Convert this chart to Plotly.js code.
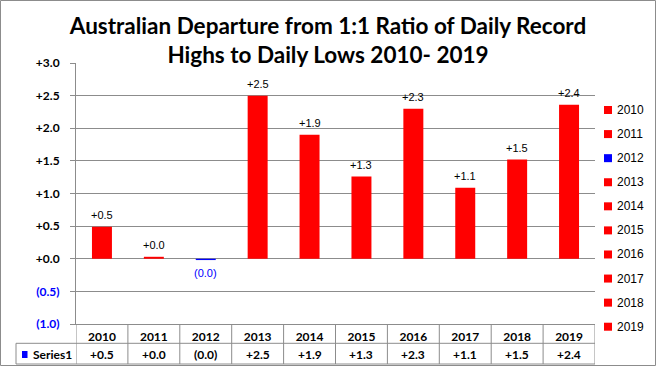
<!DOCTYPE html>
<html>
<head>
<meta charset="utf-8">
<script src="https://cdn.plot.ly/plotly-3.0.1.min.js"></script>
<style>
html,body{margin:0;padding:0;background:#fff;}
#chart{width:656px;height:366px;}
</style>
</head>
<body>
<div id="chart"></div>
<script>
// ---- data ----
const years = ['2010','2011','2012','2013','2014','2015','2016','2017','2018','2019'];
const values = [0.49, 0.03, -0.02, 2.50, 1.90, 1.26, 2.30, 1.09, 1.52, 2.36];
const barColors = ['#ff0000','#ff0000','#0000ff','#ff0000','#ff0000','#ff0000','#ff0000','#ff0000','#ff0000','#ff0000'];
const yTickVals = [-1.0, -0.5, 0.0, 0.5, 1.0, 1.5, 2.0, 2.5, 3.0];
const seriesName = 'Series1';
const seriesColor = '#0000ff';
const titleText = 'Australian Departure from 1:1 Ratio of Daily Record<br>Highs to Daily Lows 2010- 2019';

// ---- helpers ----
function fmt(v){ return v >= 0 ? '+' + v.toFixed(1) : '(' + Math.abs(v).toFixed(1) + ')'; }
const W = 656, H = 366, ML = 76, MR = 61, MT = 63, MB = 42;
const PW = W - ML - MR, PH = H - MT - MB;
const xp = px => (px - ML) / PW;
const yp = py => (H - MB - py) / PH;
const GRAY = '#8c8c8c';
const calib = 'Lato, "Open Sans", sans-serif';
const tah = '"Liberation Sans", Arial, sans-serif';

const tickText = yTickVals.map(v => v < 0 ? '<span style="color:#0000ff">' + fmt(v) + '</span>' : fmt(v));

const trace = {
  type: 'bar',
  x: years,
  y: values,
  marker: {color: barColors, line: {width: 0}},
  width: 0.385,
  showlegend: false,
  hoverinfo: 'x+y'
};

const shapes = [];
const annotations = [];

// outer border
shapes.push({type:'rect', xref:'paper', yref:'paper', x0: xp(0.5), x1: xp(655.5), y0: yp(0.5), y1: yp(365.5), line:{color:GRAY, width:1}, layer:'above'});

// data table lines
const rowMid = 343.3, rowBot = 364;
shapes.push({type:'line', xref:'paper', yref:'paper', x0: xp(16), x1: 1, y0: yp(rowMid), y1: yp(rowMid), line:{color:GRAY, width:1}});
shapes.push({type:'line', xref:'paper', yref:'paper', x0: xp(16), x1: 1, y0: yp(rowBot), y1: yp(rowBot), line:{color:GRAY, width:1}});
shapes.push({type:'line', xref:'paper', yref:'paper', x0: xp(16), x1: xp(16), y0: yp(rowMid), y1: yp(rowBot), line:{color:GRAY, width:1}});
for (let k = 0; k <= years.length; k++) {
  shapes.push({type:'line', xref:'x', yref:'paper', x0: k - 0.5, x1: k - 0.5, y0: 0, y1: yp(rowBot), line:{color:GRAY, width:1}});
}
// table values row (category index positions)
years.forEach((yr, i) => {
  annotations.push({xref:'x', yref:'paper', x: i, y: yp(354.5), text: fmt(values[i]), showarrow:false, xanchor:'center', yanchor:'middle',
    font:{family: calib, size:12, color:'#000', weight:'bold'}});
});
// series key
shapes.push({type:'rect', xref:'paper', yref:'paper', x0: xp(22), x1: xp(27.5), y0: yp(358), y1: yp(351), fillcolor: seriesColor, line:{width:0}});
annotations.push({xref:'paper', yref:'paper', x: xp(31), y: yp(354.5), text: seriesName, showarrow:false, xanchor:'left', yanchor:'middle',
  font:{family: calib, size:12, color:'#000', weight:'bold'}});

// data labels
years.forEach((yr, i) => {
  const v = values[i];
  annotations.push({xref:'x', yref:'y', x: i, y: v, text: fmt(v), showarrow:false, xanchor:'center',
    yanchor: v >= 0 ? 'bottom' : 'top', yshift: v >= 0 ? 4 : -5,
    font:{family: tah, size:11, color: v >= 0 ? '#000' : '#0000ff'}});
});

// legend (one entry per point)
years.forEach((yr, i) => {
  const cy = 110 + 24.08 * i;
  shapes.push({type:'rect', xref:'paper', yref:'paper', x0: xp(604), x1: xp(612), y0: yp(cy + 4), y1: yp(cy - 4), fillcolor: barColors[i], line:{width:0}});
  annotations.push({xref:'paper', yref:'paper', x: xp(614.5), y: yp(cy), text: yr, showarrow:false, xanchor:'left', yanchor:'middle',
    font:{family: tah, size:12, color:'#000'}});
});

const layout = {
  width: W, height: H,
  margin: {l: ML, r: MR, t: MT, b: MB, pad: 0},
  paper_bgcolor: '#fff', plot_bgcolor: '#fff',
  title: {text: titleText, x: 0.5, xref:'container', xanchor:'center', y: 1 - 34/H, yref:'container', yanchor:'top',
    font: {family: calib, size: 22.5, color:'#000', weight:'bold'}},
  xaxis: {type:'category', range:[-0.5, 9.5], showgrid:false, zeroline:false, ticks:'', showline:true, linecolor:GRAY, linewidth:1,
    tickfont:{family: calib, size:12, color:'#000', weight:'bold'}, ticklabelstandoff: 2, fixedrange:true},
  yaxis: {range:[-1, 3], tickvals: yTickVals, ticktext: tickText, showgrid:true, gridcolor:GRAY, gridwidth:1, zeroline:false,
    showline:true, linecolor:GRAY, linewidth:1, ticks:'outside', ticklen:5, tickcolor:GRAY,
    tickfont:{family: calib, size:12, color:'#000', weight:'bold'}, ticklabelstandoff: 8, fixedrange:true},
  shapes: shapes,
  annotations: annotations,
  showlegend: false,
  bargap: 0.6
};

Plotly.newPlot('chart', [trace], layout, {displayModeBar:false, staticPlot:true});
</script>
</body>
</html>
